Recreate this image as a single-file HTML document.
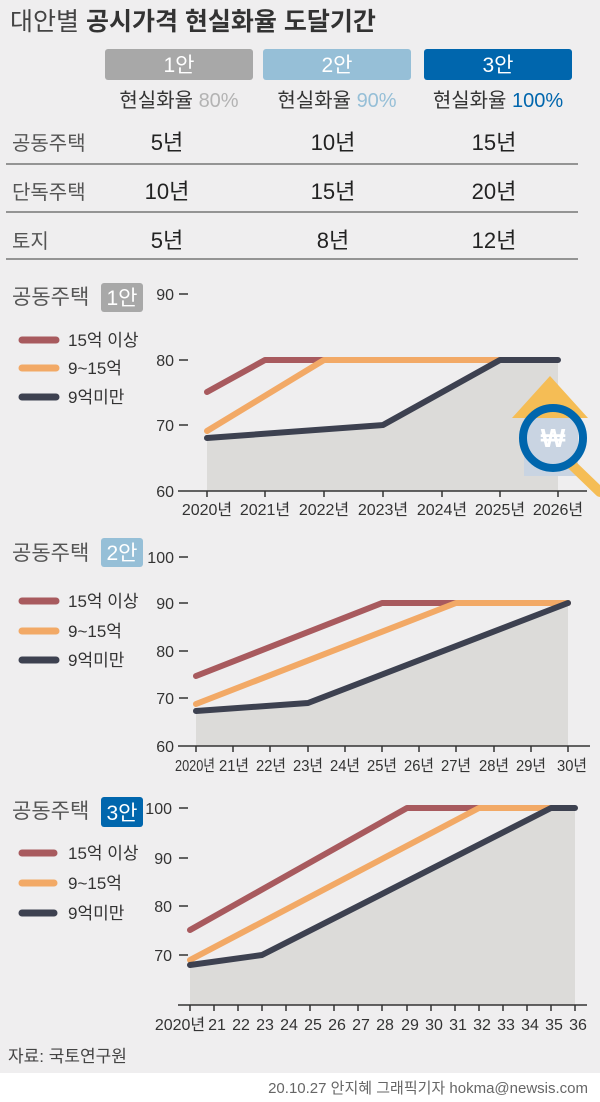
<!DOCTYPE html>
<html><head><meta charset="utf-8"><style>
html,body{margin:0;padding:0;background:#fff;}
svg{display:block;font-family:"Liberation Sans","Noto Sans CJK KR",sans-serif;}
</style></head><body>
<svg width="600" height="1102" viewBox="0 0 600 1102" xmlns="http://www.w3.org/2000/svg">
<rect x="0" y="0" width="600" height="1073" fill="#efeeef"/>
<text x="10" y="30" font-size="25" fill="#444"><tspan>대안별</tspan> <tspan font-weight="bold" fill="#333">공시가격 현실화율 도달기간</tspan></text>
<rect x="105" y="49" width="148" height="31" rx="3" fill="#a8a8a8"/>
<rect x="263" y="49" width="148" height="31" rx="3" fill="#96bfd7"/>
<rect x="424" y="49" width="148" height="31" rx="3" fill="#0066ad"/>
<g font-size="21" fill="#fff" text-anchor="middle">
<text x="179" y="72">1안</text><text x="337" y="72">2안</text><text x="498" y="72">3안</text></g>
<g font-size="20" text-anchor="middle" fill="#333">
<text x="179" y="107">현실화율 <tspan fill="#b3b3b3">80%</tspan></text>
<text x="337" y="107">현실화율 <tspan fill="#96bfd7">90%</tspan></text>
<text x="498" y="107">현실화율 <tspan fill="#0066ad">100%</tspan></text></g>
<g font-size="20" fill="#555"><text x="12" y="150">공동주택</text><text x="12" y="199">단독주택</text><text x="12" y="248">토지</text></g>
<g font-size="22" fill="#222" text-anchor="middle">
<text x="167" y="150">5년</text><text x="333" y="150">10년</text><text x="494" y="150">15년</text>
<text x="167" y="199">10년</text><text x="333" y="199">15년</text><text x="494" y="199">20년</text>
<text x="167" y="248">5년</text><text x="333" y="248">8년</text><text x="494" y="248">12년</text></g>
<g stroke="#777" stroke-width="1.5"><line x1="6" y1="164" x2="578" y2="164"/><line x1="6" y1="212" x2="578" y2="212"/><line x1="6" y1="259" x2="578" y2="259"/></g>

<!-- Chart 1 -->
<text x="12" y="304" font-size="21" fill="#555">공동주택</text>
<rect x="101" y="283" width="42" height="29" rx="3" fill="#a8a8a8"/><text x="122" y="305" font-size="21" fill="#fff" text-anchor="middle">1안</text>
<g stroke-linecap="round" stroke-width="7"><line x1="22" y1="340" x2="56" y2="340" stroke="#a85a5e"/><line x1="22" y1="368" x2="56" y2="368" stroke="#f2a966"/><line x1="22" y1="397" x2="56" y2="397" stroke="#3d4150"/></g>
<g font-size="17" fill="#333"><text x="68" y="346">15억 이상</text><text x="68" y="374">9~15억</text><text x="68" y="403">9억미만</text></g>
<polygon points="207,491 207,438 383,425 500,360 558,360 558,491" fill="#dcdbd9"/>
<g font-size="16" fill="#333" text-anchor="end"><text x="174" y="300">90</text><text x="174" y="366">80</text><text x="174" y="431">70</text><text x="174" y="497">60</text></g>
<g stroke="#333" stroke-width="1.5"><line x1="179" y1="294" x2="188" y2="294"/><line x1="179" y1="360" x2="188" y2="360"/><line x1="179" y1="425" x2="188" y2="425"/><line x1="178" y1="491" x2="587" y2="491"/>
<line x1="207" y1="491" x2="207" y2="497"/><line x1="265" y1="491" x2="265" y2="497"/><line x1="324" y1="491" x2="324" y2="497"/><line x1="383" y1="491" x2="383" y2="497"/><line x1="442" y1="491" x2="442" y2="497"/><line x1="500" y1="491" x2="500" y2="497"/><line x1="558" y1="491" x2="558" y2="497"/></g>
<g font-size="16" fill="#333" text-anchor="middle"><text x="207" y="515">2020년</text><text x="265" y="515">2021년</text><text x="324" y="515">2022년</text><text x="383" y="515">2023년</text><text x="442" y="515">2024년</text><text x="500" y="515">2025년</text><text x="558" y="515">2026년</text></g>
<g fill="none" stroke-width="6" stroke-linejoin="round" stroke-linecap="round">
<polyline points="207,392 265,360 324,360" stroke="#a85a5e"/>
<polyline points="207,431 324,360 500,360" stroke="#f2a966"/>
<polyline points="207,438 383,425 500,360 558,360" stroke="#3d4150"/></g>
<polygon points="550,376 512,418 588,418" fill="#f5bd55"/>
<rect x="524" y="418" width="54" height="58" fill="#c9d4e2"/>
<line x1="572" y1="465" x2="600" y2="492" stroke="#f5bd55" stroke-width="10" stroke-linecap="round"/>
<circle cx="553" cy="438" r="30" fill="none" stroke="#0066ad" stroke-width="8"/>
<text x="553" y="447" font-size="26" font-weight="bold" fill="#fff" text-anchor="middle">₩</text>

<!-- Chart 2 -->
<text x="12" y="560" font-size="21" fill="#555">공동주택</text>
<rect x="101" y="538" width="42" height="29" rx="3" fill="#96bfd7"/><text x="122" y="560" font-size="21" fill="#fff" text-anchor="middle">2안</text>
<g stroke-linecap="round" stroke-width="7"><line x1="22" y1="601" x2="56" y2="601" stroke="#a85a5e"/><line x1="22" y1="631" x2="56" y2="631" stroke="#f2a966"/><line x1="22" y1="660" x2="56" y2="660" stroke="#3d4150"/></g>
<g font-size="17" fill="#333"><text x="68" y="607">15억 이상</text><text x="68" y="637">9~15억</text><text x="68" y="666">9억미만</text></g>
<polygon points="196,746 196,711 308,703 568,603 568,746" fill="#dcdbd9"/>
<g font-size="16" fill="#333" text-anchor="end"><text x="174" y="563">100</text><text x="174" y="609">90</text><text x="174" y="657">80</text><text x="174" y="704">70</text><text x="174" y="752">60</text></g>
<g stroke="#333" stroke-width="1.5"><line x1="179" y1="557" x2="188" y2="557"/><line x1="179" y1="603" x2="188" y2="603"/><line x1="179" y1="651" x2="188" y2="651"/><line x1="179" y1="698" x2="188" y2="698"/><line x1="178" y1="746" x2="590" y2="746"/>
<line x1="196" y1="746" x2="196" y2="752"/><line x1="233" y1="746" x2="233" y2="752"/><line x1="270" y1="746" x2="270" y2="752"/><line x1="308" y1="746" x2="308" y2="752"/><line x1="345" y1="746" x2="345" y2="752"/><line x1="382" y1="746" x2="382" y2="752"/><line x1="419" y1="746" x2="419" y2="752"/><line x1="456" y1="746" x2="456" y2="752"/><line x1="494" y1="746" x2="494" y2="752"/><line x1="531" y1="746" x2="531" y2="752"/><line x1="568" y1="746" x2="568" y2="752"/></g>
<g font-size="16" fill="#333" text-anchor="middle" lengthAdjust="spacingAndGlyphs"><text x="195" y="771" textLength="40" lengthAdjust="spacingAndGlyphs">2020년</text><text x="234" y="771" textLength="30" lengthAdjust="spacingAndGlyphs">21년</text><text x="271" y="771" textLength="30" lengthAdjust="spacingAndGlyphs">22년</text><text x="308" y="771" textLength="30" lengthAdjust="spacingAndGlyphs">23년</text><text x="345" y="771" textLength="30" lengthAdjust="spacingAndGlyphs">24년</text><text x="382" y="771" textLength="30" lengthAdjust="spacingAndGlyphs">25년</text><text x="419" y="771" textLength="30" lengthAdjust="spacingAndGlyphs">26년</text><text x="456" y="771" textLength="30" lengthAdjust="spacingAndGlyphs">27년</text><text x="494" y="771" textLength="30" lengthAdjust="spacingAndGlyphs">28년</text><text x="531" y="771" textLength="30" lengthAdjust="spacingAndGlyphs">29년</text><text x="572" y="771" textLength="30" lengthAdjust="spacingAndGlyphs">30년</text></g>
<g fill="none" stroke-width="6" stroke-linejoin="round" stroke-linecap="round">
<polyline points="196,676 382,603 456,603" stroke="#a85a5e"/>
<polyline points="196,704 456,603 568,603" stroke="#f2a966"/>
<polyline points="196,711 308,703 568,603" stroke="#3d4150"/></g>

<!-- Chart 3 -->
<text x="12" y="818" font-size="21" fill="#555">공동주택</text>
<rect x="101" y="797" width="42" height="30" rx="3" fill="#0066ad"/><text x="122" y="820" font-size="21" fill="#fff" text-anchor="middle">3안</text>
<g stroke-linecap="round" stroke-width="7"><line x1="22" y1="853" x2="54" y2="853" stroke="#a85a5e"/><line x1="22" y1="883" x2="54" y2="883" stroke="#f2a966"/><line x1="22" y1="913" x2="54" y2="913" stroke="#3d4150"/></g>
<g font-size="17" fill="#333"><text x="68" y="859">15억 이상</text><text x="68" y="889">9~15억</text><text x="68" y="919">9억미만</text></g>
<polygon points="190,1005 190,965 262,955 551,808 575,808 575,1005" fill="#dcdbd9"/>
<g font-size="16" fill="#333" text-anchor="end"><text x="172" y="814">100</text><text x="172" y="864">90</text><text x="172" y="912">80</text><text x="172" y="961">70</text></g>
<g stroke="#333" stroke-width="1.5"><line x1="179" y1="808" x2="188" y2="808"/><line x1="179" y1="858" x2="188" y2="858"/><line x1="179" y1="906" x2="188" y2="906"/><line x1="179" y1="955" x2="188" y2="955"/><line x1="178" y1="1005" x2="587" y2="1005"/>
<line x1="190" y1="1005" x2="190" y2="1011"/><line x1="214" y1="1005" x2="214" y2="1011"/><line x1="238" y1="1005" x2="238" y2="1011"/><line x1="262" y1="1005" x2="262" y2="1011"/><line x1="286" y1="1005" x2="286" y2="1011"/><line x1="310" y1="1005" x2="310" y2="1011"/><line x1="334" y1="1005" x2="334" y2="1011"/><line x1="358" y1="1005" x2="358" y2="1011"/><line x1="382" y1="1005" x2="382" y2="1011"/><line x1="407" y1="1005" x2="407" y2="1011"/><line x1="431" y1="1005" x2="431" y2="1011"/><line x1="455" y1="1005" x2="455" y2="1011"/><line x1="479" y1="1005" x2="479" y2="1011"/><line x1="503" y1="1005" x2="503" y2="1011"/><line x1="527" y1="1005" x2="527" y2="1011"/><line x1="551" y1="1005" x2="551" y2="1011"/><line x1="575" y1="1005" x2="575" y2="1011"/></g>
<g font-size="16" fill="#333" text-anchor="middle"><text x="180" y="1030">2020년</text><text x="217" y="1030">21</text><text x="241" y="1030">22</text><text x="265" y="1030">23</text><text x="289" y="1030">24</text><text x="313" y="1030">25</text><text x="337" y="1030">26</text><text x="361" y="1030">27</text><text x="385" y="1030">28</text><text x="410" y="1030">29</text><text x="434" y="1030">30</text><text x="458" y="1030">31</text><text x="482" y="1030">32</text><text x="506" y="1030">33</text><text x="530" y="1030">34</text><text x="554" y="1030">35</text><text x="578" y="1030">36</text></g>
<g fill="none" stroke-width="6" stroke-linejoin="round" stroke-linecap="round">
<polyline points="190,930 407,808 479,808" stroke="#a85a5e"/>
<polyline points="190,960 479,808 551,808" stroke="#f2a966"/>
<polyline points="190,965 262,955 551,808 575,808" stroke="#3d4150"/></g>

<text x="8" y="1062" font-size="17" fill="#444">자료: 국토연구원</text>
<text x="588" y="1093" font-size="15" fill="#666" text-anchor="end">20.10.27 안지혜 그래픽기자 hokma@newsis.com</text>
</svg>
</body></html>
